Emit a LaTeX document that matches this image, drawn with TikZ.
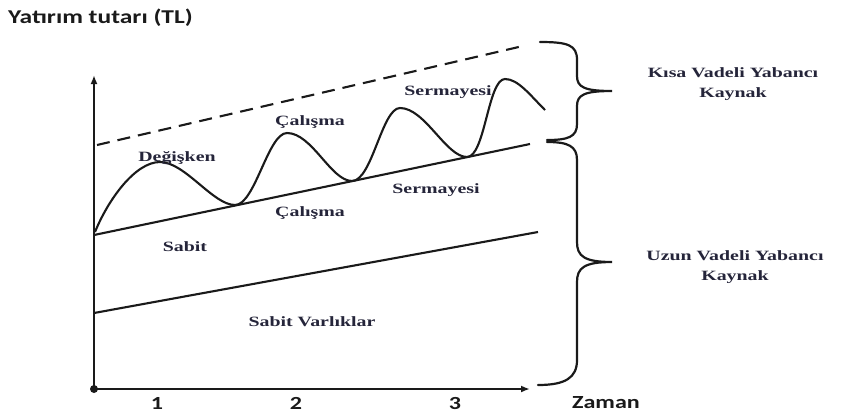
\documentclass[tikz,border=0pt]{standalone}
\usepackage{fontspec}
\usetikzlibrary{arrows.meta}
\newfontfamily\calfont[FakeStretch=1.3]{Carlito}
\newfontfamily\serfont[FakeStretch=1.4]{Liberation Serif}
\definecolor{ink}{HTML}{1A1A1A}
\definecolor{lbl}{HTML}{25253A}
\tikzset{
  axisline/.style={line width=2.6pt, draw=ink},
  graphline/.style={line width=2.1pt, draw=ink},
  dashline/.style={line width=2.1pt, draw=ink, dash pattern=on 13pt off 8pt},
  bracepath/.style={line width=2.2pt, draw=ink, line cap=round},
  sanslbl/.style={font=\calfont\bfseries\fontsize{18.5}{22}\selectfont, text=ink, inner sep=0pt},
  titlelbl/.style={font=\calfont\bfseries\fontsize{19.6}{23}\selectfont, text=ink, inner sep=0pt},
  serlbl/.style={font=\serfont\bfseries\fontsize{14.2}{20}\selectfont, text=lbl, inner sep=0pt, align=center},
}
\begin{document}
\begin{tikzpicture}[x=1pt,y=-1pt]
\useasboundingbox (0,0) rectangle (845,416);
% coordinates
\coordinate (O) at (94,389);
\coordinate (Ytop) at (94,75);
\coordinate (Xend) at (530,389);
\coordinate (B1) at (94,313);
\coordinate (B2) at (538,232);
\coordinate (M1) at (94,235);
\coordinate (M2) at (530,144);
\coordinate (D1) at (97,145);
\coordinate (D2) at (523,46);
% axes
\draw[axisline, -{Latex[length=9pt,width=7pt]}] (O) -- (Ytop);
\draw[axisline, -{Latex[length=9pt,width=7pt]}] (O) -- (Xend);
\fill[ink] (O) circle (4pt);
% lines
\draw[graphline] (B1) -- (B2);
\draw[graphline] (M1) -- (M2);
\draw[dashline] (D1) -- (D2);
% wave
\draw[graphline, line join=round]
  (95,232) .. controls (108,200) and (135,162) .. (160,162)
  .. controls (185,162) and (213,205) .. (235,205)
  .. controls (255,205) and (268,133) .. (287,133)
  .. controls (312,133) and (331,181) .. (352,181)
  .. controls (372,181) and (382,108) .. (400,108)
  .. controls (425,108) and (446,157) .. (467,157)
  .. controls (485,157) and (488,79) .. (505,79)
  .. controls (518,79) and (530,95) .. (545,110);
% braces
\draw[bracepath]
  (540,42) .. controls (568,42) and (577,45) .. (577,60) -- (577,76)
  .. controls (577,87) and (584,91) .. (612,91)
  .. controls (584,91) and (577,95) .. (577,106) -- (577,124)
  .. controls (577,137) and (568,140) .. (547,140);
\draw[bracepath]
  (547,142) .. controls (568,142) and (577,146) .. (577,160) -- (577,242)
  .. controls (577,256) and (584,262) .. (612,262)
  .. controls (584,262) and (577,268) .. (577,282) -- (577,360)
  .. controls (577,378) and (565,385) .. (538,385);
% labels
\node[titlelbl, anchor=west] (title) at (8,18) {Yatırım tutarı (TL)};
\node[sanslbl] (n1) at (157,403) {1};
\node[sanslbl] (n2) at (296,403) {2};
\node[sanslbl] (n3) at (455,403) {3};
\node[sanslbl] (zaman) at (606,403) {Zaman};
\node[serlbl] (degisken) at (177,158) {Değişken};
\node[serlbl] (cal1) at (310,122) {Çalışma};
\node[serlbl] (cal2) at (310,213) {Çalışma};
\node[serlbl] (ser1) at (448,92) {Sermayesi};
\node[serlbl] (ser2) at (436,190) {Sermayesi};
\node[serlbl] (sabit) at (185,247) {Sabit};
\node[serlbl] (sabitv) at (312,322) {Sabit Varlıklar};
\node[serlbl] (kisa) at (733,84) {Kısa Vadeli Yabancı\\Kaynak};
\node[serlbl] (uzun) at (735,267) {Uzun Vadeli Yabancı\\Kaynak};
\end{tikzpicture}
\end{document}
